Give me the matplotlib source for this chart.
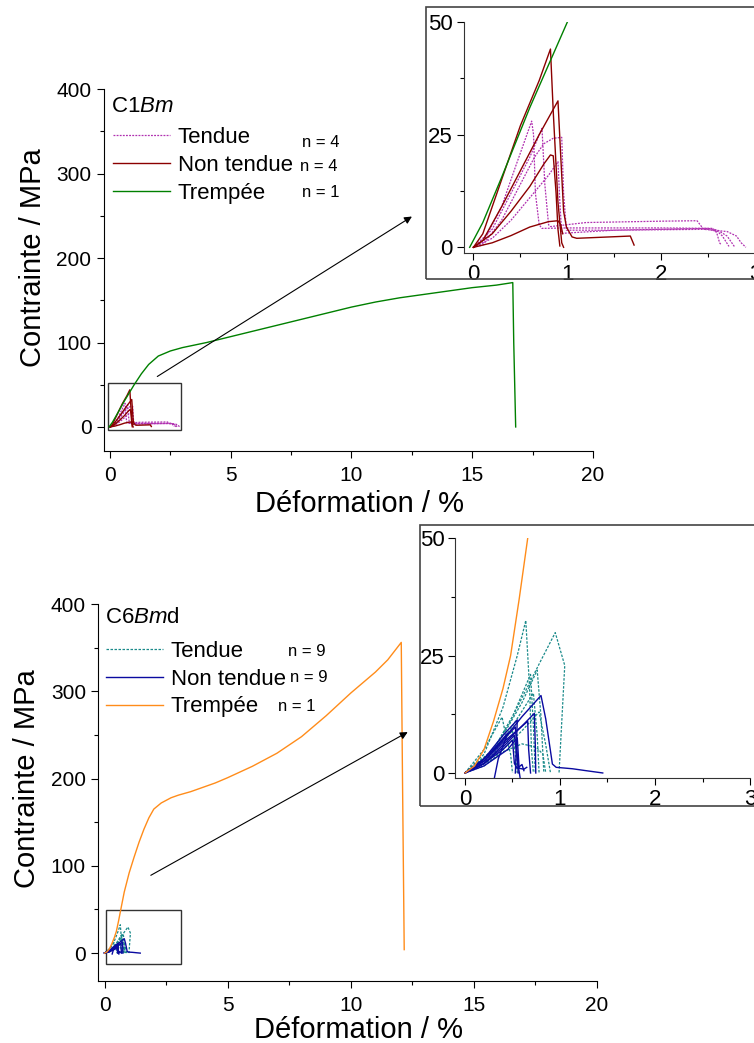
import matplotlib
matplotlib.use('Agg')
from matplotlib import pyplot as plt
from matplotlib.patches import Rectangle
from matplotlib.ticker import MultipleLocator

plt.rcParams['font.family'] = ['Liberation Sans', 'DejaVu Sans']
plt.rcParams['mathtext.fontset'] = 'custom'
plt.rcParams['mathtext.rm'] = 'Liberation Sans'
plt.rcParams['mathtext.it'] = 'Liberation Sans:italic'

# ---------------- C1Bm (top) ----------------
c1_trempee_x = [-0.04, 0.1, 0.3, 0.6, 1.0, 1.3, 1.6, 2.0, 2.5, 3.0, 4.0, 5.0, 6.0, 7.0, 8.0, 9.0,
                10.0, 11.0, 12.0, 13.0, 14.0, 15.0, 16.0, 16.68, 16.72, 16.8]
c1_trempee_y = [0, 5.5, 15.5, 31, 50, 63, 74, 84, 90, 94, 100, 107, 114, 121, 128, 135,
                142, 148, 153, 157, 161, 165, 168, 171, 100, 0]

c1_tendue_x = [
    [0, 0.1, 0.3, 0.45, 0.62, 0.64, 0.66, 0.7, 0.73, 1.0, 2.0, 2.55, 2.59, 2.62, 2.64],
    [0, 0.1, 0.3, 0.5, 0.65, 0.75, 0.85, 0.94, 0.96, 0.99, 1.5, 2.0, 2.5, 2.6, 2.65, 2.72],
    [0, 0.2, 0.4, 0.6, 0.73, 0.76, 0.8, 0.82, 1.2, 2.0, 2.38, 2.45, 2.7, 2.8, 2.85, 2.9],
    [0, 0.2, 0.4, 0.6, 0.8, 0.9, 0.92, 0.94, 1.5, 2.0, 2.5, 2.6, 2.7, 2.78],
]
c1_tendue_y = [
    [0, 1, 9, 18, 28, 25, 12, 5, 4.2, 4.3, 4.3, 4.2, 3.2, 1, 0.5],
    [0, 0.5, 6, 14, 20, 23, 24.2, 24.4, 12, 3.8, 3.8, 3.9, 4.0, 3.5, 2.5, 0.2],
    [0, 4, 12, 20, 26.4, 14, 5, 4.6, 5.5, 5.8, 5.9, 4, 3.5, 2.5, 1, 0],
    [0, 2, 6, 11, 16, 19, 10, 3.1, 3.8, 4.0, 4.2, 3.8, 2.5, 0.1],
]
c1_nontendue_x = [
    [0, 0.1, 0.3, 0.5, 0.7, 0.82, 0.85, 0.9, 0.94, 0.96],
    [0, 0.1, 0.3, 0.5, 0.7, 0.9, 0.93, 0.96, 0.99, 1.05, 1.1, 1.67, 1.71],
    [0, 0.2, 0.4, 0.6, 0.75, 0.82, 0.85, 0.88, 0.9, 0.92],
    [0, 0.2, 0.4, 0.6, 0.8, 0.9, 0.93, 0.95],
]
c1_nontendue_y = [
    [0, 3, 15, 27, 37, 44, 30, 10, 1, 0],
    [0, 1.5, 9, 17, 25, 32.5, 20, 8, 4.5, 2.3, 2, 2.5, 0.5],
    [0, 3, 8, 13.5, 18.5, 20.5, 20.3, 12, 4, 0.3],
    [0, 1, 2.6, 4.5, 5.7, 5.9, 5, 3],
]

# ---------------- C6Bmd (bottom) ----------------
c6_trempee_x = [0, 0.1, 0.2, 0.3, 0.4, 0.48, 0.57, 0.66, 0.8, 1.0, 1.2, 1.4, 1.6, 1.8, 2.0, 2.3, 2.7,
                3.0, 3.5, 4.0, 4.5, 5.0, 6.0, 7.0, 8.0, 9.0, 10.0, 11.0, 11.5, 12.05, 12.1, 12.17]
c6_trempee_y = [0, 1.5, 5, 11, 18, 25, 37, 50, 70, 92, 110, 127, 142, 155, 165, 172, 178,
                181, 185, 190, 195, 201, 214, 229, 248, 272, 298, 322, 336, 356, 200, 4]

c6_tendue_x = [
    [0, 0.2, 0.4, 0.55, 0.64, 0.68, 0.7, 0.72],
    [0, 0.3, 0.5, 0.7, 0.8, 0.95, 1.05, 0.99],
    [0, 0.2, 0.4, 0.6, 0.76, 0.8, 0.83],
    [0, 0.3, 0.5, 0.72, 0.76, 0.78],
    [0, 0.2, 0.4, 0.6, 0.75, 0.82, 0.85],
    [0, 0.2, 0.39, 0.42, 0.48, 0.5],
    [0, 0.3, 0.5, 0.69, 0.72, 0.74],
    [0, 0.2, 0.4, 0.5, 0.53, 0.55],
    [0, 0.3, 0.6, 0.78, 0.85, 0.9],
]
c6_tendue_y = [
    [0, 4, 14, 25, 32.5, 18, 5, 0],
    [0, 5, 12, 20, 24, 29.9, 22.9, 0],
    [0, 2, 8, 15, 21.9, 12, 0],
    [0, 4, 10, 17, 8, 0],
    [0, 1.5, 4.5, 6.2, 5.5, 4, 0],
    [0, 5, 11.9, 9, 4, 0],
    [0, 5, 12, 21, 10, 0],
    [0, 3, 7, 9, 4, 0],
    [0, 3, 9, 13, 6, 0],
]
c6_nontendue_x = [
    [0, 0.2, 0.4, 0.6, 0.80, 0.85, 0.92, 0.96, 1.13, 1.27, 1.45],
    [0, 0.2, 0.4, 0.6, 0.73, 0.74, 0.745],
    [0, 0.2, 0.4, 0.66, 0.67, 0.69],
    [0, 0.2, 0.4, 0.55, 0.54, 0.53],
    [0, 0.2, 0.4, 0.53, 0.55, 0.56],
    [0, 0.15, 0.3, 0.45, 0.35, 0.31],
    [0, 0.2, 0.4, 0.5, 0.52, 0.55, 0.6, 0.62],
    [0, 0.2, 0.45, 0.55, 0.57, 0.62, 0.65],
    [0, 0.2, 0.4, 0.52, 0.55, 0.58],
]
c6_nontendue_y = [
    [0, 2.5, 7, 12, 16.5, 11.5, 1.9, 1.2, 0.9, 0.5, 0],
    [0, 2, 6, 10, 12.7, 6, 0],
    [0, 2.5, 6.5, 11, 5, 0],
    [0, 3, 8, 11.3, 5, 0],
    [0, 3, 7, 9.8, 4, 0],
    [0, 2, 5, 8.5, 3, -1],
    [0, 2, 5, 7, 2, 1, 1.8, 0.5],
    [0, 1.5, 5, 7.5, 1, 0.8, 1.2],
    [0, 2, 5.5, 8, 3, -1],
]

labels = ['Tendue', 'Non tendue', 'Trempée']

fig = plt.figure(figsize=(7.54, 10.43), dpi=100)


def draw_curves(ax, tx, ty, nx, ny, rx, ry, ct, cn, cr, tdash):
    for x, y in zip(tx, ty):
        lt, = ax.plot(x, y, c=ct, lw=0.9, ls=tdash)
    for x, y in zip(nx, ny):
        ln, = ax.plot(x, y, c=cn, lw=1.0)
    lr, = ax.plot(rx, ry, c=cr, lw=1.0)
    return lt, ln, lr


def style_main(ax, ylo, xlpad):
    ax.set_xlim(-0.25, 20)
    ax.set_ylim(ylo, 400)
    for s in ['top', 'right']:
        ax.spines[s].set_visible(False)
    ax.xaxis.set_major_locator(MultipleLocator(5))
    ax.xaxis.set_minor_locator(MultipleLocator(2.5))
    ax.yaxis.set_major_locator(MultipleLocator(100))
    ax.yaxis.set_minor_locator(MultipleLocator(50))
    ax.tick_params(which='major', direction='out', length=5, width=0.8, labelsize=15, pad=4)
    ax.tick_params(which='minor', direction='out', length=3, width=0.8)
    ax.tick_params(axis='x', which='major', pad=6)
    ax.set_xlabel('Déformation / %', fontsize=21, labelpad=xlpad, x=0.522)
    ax.set_ylabel('Contrainte / MPa', fontsize=21, labelpad=7,
                  y=(200 - ylo) / (400 - ylo))


def style_inset(ax, ylo):
    ax.set_xlim(-0.1, 3)
    ax.set_ylim(ylo, 50)
    for s in ['top', 'right']:
        ax.spines[s].set_visible(False)
    for s in ['left', 'bottom']:
        ax.spines[s].set_color('#333333')
    ax.xaxis.set_major_locator(MultipleLocator(1))
    ax.xaxis.set_minor_locator(MultipleLocator(0.5))
    ax.yaxis.set_major_locator(MultipleLocator(25))
    ax.yaxis.set_minor_locator(MultipleLocator(12.5))
    ax.tick_params(which='major', direction='out', length=5, width=0.8, labelsize=16, pad=3)
    ax.tick_params(which='minor', direction='out', length=3, width=0.8)


def panel(main_rect, inset_rect, frame_rect, ylo, ilo, xlpad, data, colors, tdash,
          box, arrow, title, title_pos, leg_anchor, nlabels, npos):
    ax = fig.add_axes(main_rect)
    lines = draw_curves(ax, *data, *colors, tdash)
    style_main(ax, ylo, xlpad)
    ax.add_patch(Rectangle((box[0], box[1]), box[2] - box[0], box[3] - box[1],
                           fill=False, ec='#333333', lw=1.0))
    ax.annotate('', xy=arrow[1], xytext=arrow[0],
                arrowprops=dict(arrowstyle='-|>', color='black', lw=0.8, mutation_scale=11))
    ax.text(title_pos[0], title_pos[1], title, transform=ax.transAxes, fontsize=16,
            ha='left', va='center')
    ax.legend(lines, labels, loc='upper left', bbox_to_anchor=leg_anchor, frameon=False,
              fontsize=16, handlelength=2.57, handletextpad=0.36, labelspacing=0.3,
              borderpad=0, borderaxespad=0)
    for t, (px, py) in zip(nlabels, npos):
        ax.text(px, py, t, transform=ax.transAxes, fontsize=12, ha='left', va='center')

    fig.patches.append(Rectangle((frame_rect[0], frame_rect[1]), frame_rect[2], frame_rect[3],
                                 transform=fig.transFigure, fill=False, ec='#444444', lw=1.2))
    ins = fig.add_axes(inset_rect)
    draw_curves(ins, *data, *colors, tdash)
    style_inset(ins, ilo)


panel(main_rect=[0.1379, 0.568, 0.6485, 0.3464],
      inset_rect=[0.6154, 0.7577, 0.3863, 0.2212],
      frame_rect=[0.565, 0.7322, 0.45, 0.2608],
      ylo=-28, ilo=-1.2, xlpad=4,
      data=(c1_tendue_x, c1_tendue_y, c1_nontendue_x, c1_nontendue_y, c1_trempee_x, c1_trempee_y),
      colors=('#B030B0', '#8B0000', '#008000'), tdash=(0, (1.5, 1.0)),
      box=(-0.07, -3.6, 2.94, 52.5), arrow=((1.86, 58), (12.6, 251)),
      title='C1$\\mathit{Bm}$', title_pos=(0.0143, 0.951), leg_anchor=(0.018, 0.895),
      nlabels=['n = 4', 'n = 4', 'n = 1'],
      npos=[(0.405, 0.854), (0.401, 0.785), (0.405, 0.713)])

panel(main_rect=[0.1305, 0.0594, 0.6613, 0.3615],
      inset_rect=[0.6041, 0.2544, 0.3906, 0.2295],
      frame_rect=[0.557, 0.2275, 0.46, 0.2694],
      ylo=-32, ilo=-1.0, xlpad=0.5,
      data=(c6_tendue_x, c6_tendue_y, c6_nontendue_x, c6_nontendue_y, c6_trempee_x, c6_trempee_y),
      colors=('#1A8A8A', '#0A0AA0', '#FF8C1A'), tdash=(0, (2.0, 1.2)),
      box=(0.07, -13, 3.09, 49), arrow=((1.78, 87.6), (12.41, 254.8)),
      title='C6$\\mathit{Bm}$d', title_pos=(0.013, 0.963), leg_anchor=(0.015, 0.902),
      nlabels=['n = 9', 'n = 9', 'n = 1'],
      npos=[(0.380, 0.873), (0.384, 0.804), (0.360, 0.729)])

fig.savefig('out.png', dpi=100)
